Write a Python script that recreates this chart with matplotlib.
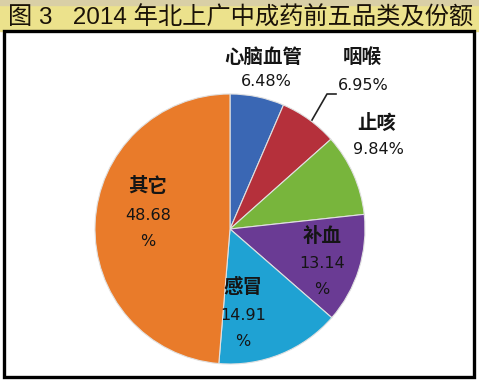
import matplotlib
matplotlib.use("Agg")
import matplotlib.pyplot as plt
from matplotlib.patches import Rectangle

plt.rcParams['font.family'] = ['Noto Sans CJK SC', 'DejaVu Sans']

# datos del grafico
categorias = ['心脑血管', '咽喉', '止咳', '补血', '感冒', '其它']
valores = [6.48, 6.95, 9.84, 13.14, 14.91, 48.68]
colores = ['#3a67b4', '#b5303b', '#78b53c', '#6a3b94', '#1fa2d3', '#e97b2a']
titulo = '图 3   2014 年北上广中成药前五品类及份额'

# posiciones de las etiquetas (pixeles, desde arriba)
pos_nombre = [(263, 57), (362, 57), (377, 123), (322, 236), (243, 287), (148, 187)]
pos_valor = [(266, 81), (363, 85), (378, 150), (322, 263), (243, 315), (148, 215)]
partido = [False, False, False, True, True, True]

W, H = 479, 382


def yy(y):
    return H - y


fig = plt.figure(figsize=(W / 100, H / 100), dpi=100)
ax = fig.add_axes([0, 0, 1, 1])
ax.set_xlim(0, W)
ax.set_ylim(0, H)
ax.set_aspect('equal')
ax.axis('off')

# fondo del titulo
ax.add_patch(Rectangle((0, yy(31)), W, 31, color='#ece28c', zorder=0))
ax.add_patch(Rectangle((0, yy(5)), W, 5, color='#d9cfa6', zorder=0))
ax.text(8, yy(18), titulo, fontsize=17.5, va='center', ha='left', color='#1a1208',
        family=['Liberation Sans', 'Noto Sans CJK SC'])

# marco
ax.add_patch(Rectangle((4, yy(377)), 470, 346, fill=False, edgecolor='black',
                       linewidth=2.4, zorder=1))

ax.pie(valores, colors=colores, startangle=90, counterclock=False,
       center=(230, yy(229)), radius=135,
       wedgeprops={'edgecolor': '#e0e0e0', 'linewidth': 0.8})
ax.set_xlim(0, W)
ax.set_ylim(0, H)

for i in range(len(categorias)):
    x, y = pos_nombre[i]
    ax.text(x, yy(y), categorias[i], fontsize=14, fontweight='bold',
            ha='center', va='center', color='#151515')
    x, y = pos_valor[i]
    if partido[i]:
        ax.text(x, yy(y), f"{valores[i]:.2f}", fontsize=11.5, ha='center',
                va='center', color='#151515', family='DejaVu Sans')
        ax.text(x, yy(y + 27), "%", fontsize=11.5, ha='center',
                va='center', color='#151515', family='DejaVu Sans')
    else:
        ax.text(x, yy(y), f"{valores[i]:.2f}%", fontsize=11.5, ha='center',
                va='center', color='#151515', family='DejaVu Sans')

# linea guia de 咽喉
ax.plot([312, 327, 336], [yy(120), yy(94), yy(94)], color='#222222', linewidth=1.2)

fig.savefig('out.png', dpi=100)
